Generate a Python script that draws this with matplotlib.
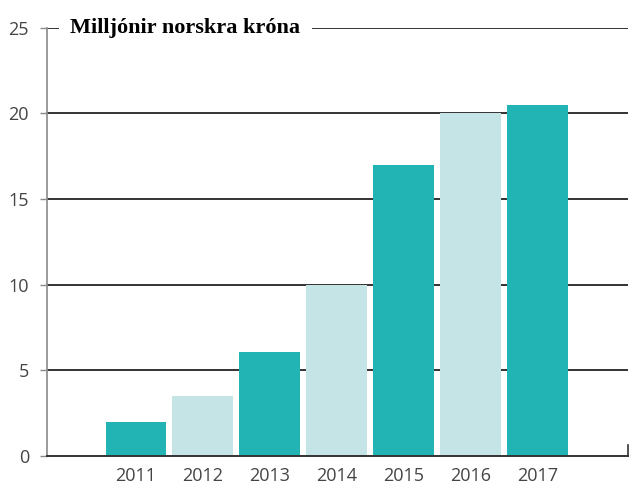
import matplotlib.pyplot as plt

# yearly values, million NOK
years = ['2011', '2012', '2013', '2014', '2015', '2016', '2017']
values = [2.0, 3.5, 6.1, 10.0, 17.0, 20.0, 20.5]
y_ticks = [0, 5, 10, 15, 20, 25]

dark = '#22b4b4'
light = '#c4e4e5'
colors = [dark if i % 2 == 0 else light for i in range(len(years))]

fig = plt.figure(figsize=(6.35, 4.88), dpi=100)
ax = fig.add_axes([0.074, 0.0656, 0.915, 0.8774])

# horizontal grid lines behind the bars
for t in y_ticks[1:]:
    ax.axhline(t, color='#333333', linewidth=1.4, zorder=1)

x = range(len(years))
ax.bar(x, values, width=0.91, color=colors, zorder=2)

ax.set_xlim(-1.33, 7.35)
ax.set_ylim(0, 25)
ax.set_xticks(list(x))
ax.set_xticklabels(years)
ax.set_yticks(y_ticks)

for side in ['top', 'right']:
    ax.spines[side].set_visible(False)
ax.spines['left'].set_color('#8a8a8a')
ax.spines['left'].set_linewidth(1.2)
ax.spines['bottom'].set_color('#333333')
ax.spines['bottom'].set_linewidth(1.4)
ax.axvline(7.35, ymin=0, ymax=0.025, color='#333333', linewidth=1.2,
           clip_on=False)

ax.tick_params(axis='y', length=5, width=1, color='#8a8a8a', pad=8,
               labelsize=13, labelcolor='#444444')
ax.tick_params(axis='x', length=0, pad=8, labelsize=13,
               labelcolor='#444444')
for lab in ax.get_xticklabels() + ax.get_yticklabels():
    lab.set_family('Open Sans')

ax.text(-0.98, 25, 'Milljónir norskra króna', family='Liberation Serif',
        fontweight='bold', fontsize=16, va='center', ha='left', zorder=3,
        bbox=dict(facecolor='white', edgecolor='none', pad=8))

fig.savefig('out.png', dpi=100)
